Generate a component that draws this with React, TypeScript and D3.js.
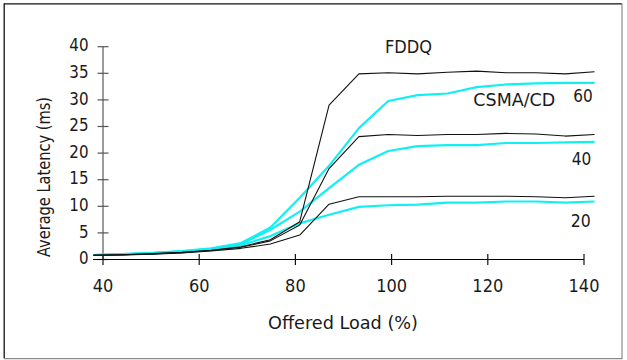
import React from "react";
import * as d3 from "d3";

const loads = [38, 44.1, 50.3, 56.4, 62.5, 68.7, 74.8, 80.9, 87, 93.2, 99.3, 105.4, 111.6, 117.7, 123.8, 130, 136.1, 142.2];
const fddq60 = [0.8, 0.9, 1.1, 1.35, 1.75, 2.4, 3.7, 7.1, 29.0, 34.9, 35.1, 34.9, 35.2, 35.4, 35.1, 35.1, 34.9, 35.3];
const fddq40 = [0.8, 0.9, 1.05, 1.3, 1.7, 2.3, 3.5, 6.5, 17.1, 23.1, 23.5, 23.3, 23.5, 23.5, 23.7, 23.6, 23.2, 23.5];
const fddq20 = [0.8, 0.85, 1.0, 1.25, 1.6, 2.1, 2.9, 4.6, 10.4, 11.8, 11.8, 11.8, 11.9, 11.9, 11.9, 11.8, 11.6, 11.9];
const csma60 = [0.85, 1.0, 1.25, 1.6, 2.1, 3.1, 6.0, 11.6, 17.6, 24.7, 29.8, 30.9, 31.2, 32.4, 32.9, 33.1, 33.2, 33.2];
const csma40 = [0.85, 1.0, 1.2, 1.55, 2.0, 2.9, 5.6, 9.0, 13.4, 17.8, 20.4, 21.3, 21.5, 21.5, 21.9, 21.9, 22.0, 22.1];
const csma20 = [0.85, 0.95, 1.15, 1.5, 1.95, 2.7, 4.4, 6.8, 8.4, 9.9, 10.2, 10.3, 10.7, 10.7, 10.9, 10.9, 10.7, 10.9];

const xTicks = [40, 60, 80, 100, 120, 140];
const yTicks = [0, 5, 10, 15, 20, 25, 30, 35, 40];

const FONT = "'Liberation Sans Narrow', 'DejaVu Sans Condensed', 'Roboto Condensed', Arial, sans-serif";
const TEXT = "#1a1a1a";
const CYAN = "#10f0f4";

export default function App() {
  const x = d3.scaleLinear().domain([40, 140]).range([103, 584]);
  const y = d3.scaleLinear().domain([0, 40]).range([259.5, 46.7]);
  const line = (vals: number[]) =>
    d3.line<number>().x((_, i) => x(loads[i])).y((v) => y(v))(vals) || "";

  const black = [fddq60, fddq40, fddq20];
  const cyan = [csma60, csma40, csma20];
  const digitW = (t: number) => String(t).length * 9.6;

  return (
    <svg
      width={627}
      height={360}
      style={{ position: "absolute", left: 0, top: 0, background: "#fff" }}
      fontFamily={FONT}
    >
      <rect x={0} y={0} width={627} height={360} fill="#fff" />
      {/* frame */}
      <line x1={4} y1={3.8} x2={622} y2={3.8} stroke="#111" strokeWidth={1.3} />
      <line x1={4.2} y1={3.5} x2={4.2} y2={358.5} stroke="#111" strokeWidth={1.3} />
      <line x1={622} y1={3.5} x2={622} y2={358.5} stroke="#8a8a8a" strokeWidth={1.2} />
      <line x1={4} y1={358.6} x2={622.5} y2={358.6} stroke="#8a8a8a" strokeWidth={1.3} />

      {/* y axis */}
      <line x1={x(40)} y1={y(40)} x2={x(40)} y2={y(0)} stroke="#666" strokeWidth={1.3} />
      {yTicks.map((t) => (
        <g key={"y" + t}>
          <line x1={x(40) - 5.5} x2={x(40) + 5.5} y1={y(t)} y2={y(t)} stroke="#555" strokeWidth={1.2} />
          <text
            x={88.5 - digitW(t)}
            y={y(t) + 4.6}
            fontSize={18}
            fill={TEXT}
            textLength={digitW(t)}
            lengthAdjust="spacingAndGlyphs"
          >
            {t}
          </text>
        </g>
      ))}

      {/* x axis */}
      <line x1={93} y1={y(0)} x2={x(140)} y2={y(0)} stroke="#000" strokeWidth={1.2} />
      {xTicks.map((t) => (
        <g key={"x" + t}>
          <line x1={x(t)} x2={x(t)} y1={y(0) - 5.5} y2={y(0) + 5.5} stroke="#111" strokeWidth={1.2} />
          <text
            x={x(t) - (String(t).length * 10.3) / 2}
            y={292}
            fontSize={18.5}
            fill={TEXT}
            textLength={String(t).length * 10.3}
            lengthAdjust="spacingAndGlyphs"
          >
            {t}
          </text>
        </g>
      ))}

      {/* series */}
      {cyan.map((s, i) => (
        <path key={"c" + i} d={line(s)} fill="none" stroke={CYAN} strokeWidth={2.2} strokeLinejoin="round" />
      ))}
      {black.map((s, i) => (
        <path key={"b" + i} d={line(s)} fill="none" stroke="#111" strokeWidth={1.1} strokeLinejoin="round" />
      ))}

      {/* labels */}
      <text x={385} y={53.3} fontSize={18} fill={TEXT} textLength={47} lengthAdjust="spacingAndGlyphs">FDDQ</text>
      <text x={473.3} y={105.7} fontSize={18} fill={TEXT} textLength={82} lengthAdjust="spacingAndGlyphs">CSMA/CD</text>
      <text x={573.3} y={102.3} fontSize={18.5} fill={TEXT} textLength={19.5} lengthAdjust="spacingAndGlyphs">60</text>
      <text x={571.7} y={165} fontSize={18.5} fill={TEXT} textLength={19.5} lengthAdjust="spacingAndGlyphs">40</text>
      <text x={570.7} y={226.7} fontSize={18.5} fill={TEXT} textLength={20} lengthAdjust="spacingAndGlyphs">20</text>

      <text x={268} y={329} fontSize={17.5} fill={TEXT} textLength={150} lengthAdjust="spacingAndGlyphs">
        Offered Load (%)
      </text>
      <text
        transform="translate(50,257) rotate(-90)"
        fontSize={18}
        fill={TEXT}
        textLength={160}
        lengthAdjust="spacingAndGlyphs"
      >
        Average Latency (ms)
      </text>
    </svg>
  );
}
